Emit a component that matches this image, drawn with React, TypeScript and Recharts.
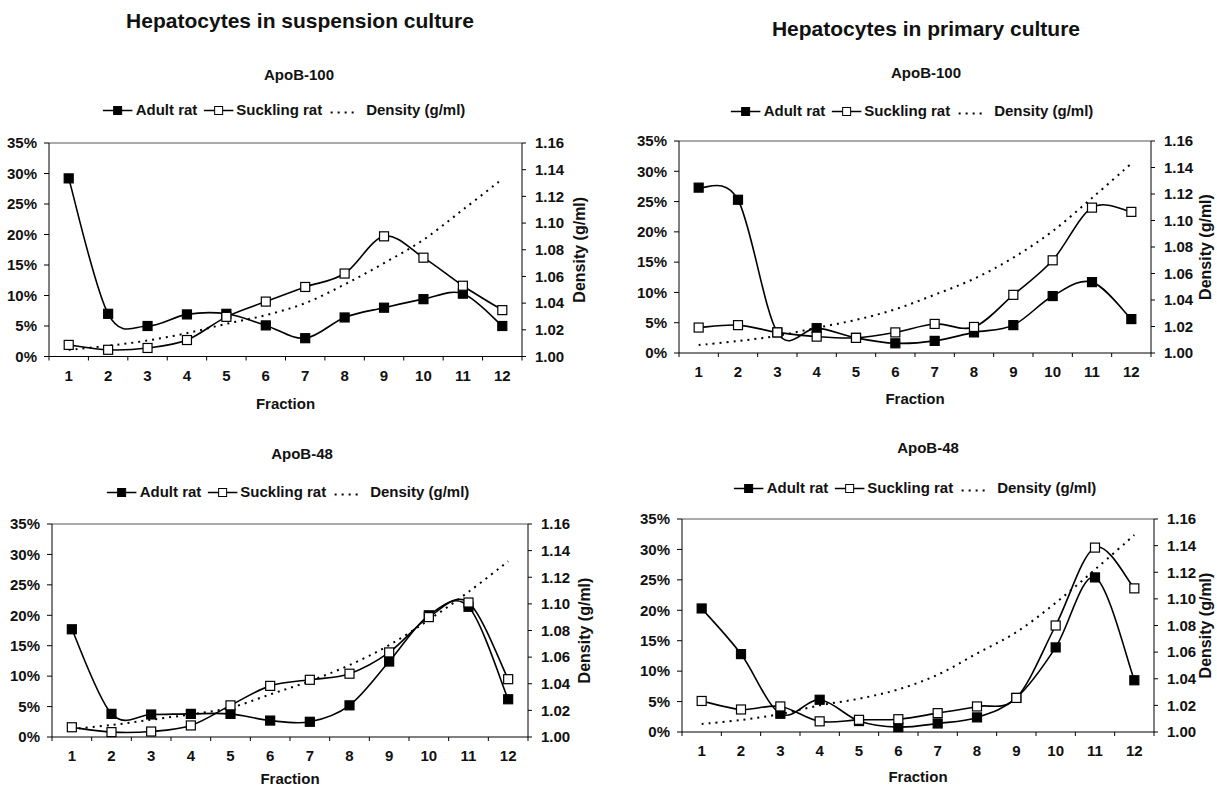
import React from 'react';
import { LineChart, Line, XAxis, YAxis, ReferenceLine } from 'recharts';

const FRACTIONS = [1, 2, 3, 4, 5, 6, 7, 8, 9, 10, 11, 12];
const FRACTION_TICKS = [0.5, 1, 1.5, 2, 2.5, 3, 3.5, 4, 4.5, 5, 5.5, 6, 6.5, 7, 7.5, 8, 8.5, 9, 9.5, 10, 10.5, 11, 11.5, 12, 12.5];
const PCT_TICKS = [0, 5, 10, 15, 20, 25, 30, 35];
const DENSITY_TICKS = [1.0, 1.02, 1.04, 1.06, 1.08, 1.1, 1.12, 1.14, 1.16];

// suspension culture, ApoB-100
const SUSP100_ADULT = [29.2, 7.0, 5.0, 6.9, 7.0, 5.1, 3.0, 6.4, 8.0, 9.4, 10.3, 5.0];
const SUSP100_SUCKLING = [1.9, 1.1, 1.4, 2.7, 6.5, 9.0, 11.4, 13.6, 19.7, 16.2, 11.6, 7.6];
const SUSP100_DENSITY = [1.005, 1.008, 1.012, 1.0175, 1.0245, 1.031, 1.04, 1.054, 1.07, 1.0875, 1.11, 1.133];

// primary culture, ApoB-100
const PRIM100_ADULT = [27.3, 25.3, 3.4, 4.1, 2.5, 1.6, 2.0, 3.4, 4.6, 9.4, 11.7, 5.6];
const PRIM100_SUCKLING = [4.2, 4.6, 3.4, 2.7, 2.5, 3.4, 4.8, 4.3, 9.6, 15.3, 24.0, 23.3];
const PRIM100_DENSITY = [1.006, 1.009, 1.013, 1.019, 1.025, 1.033, 1.044, 1.056, 1.072, 1.092, 1.117, 1.143];

// suspension culture, ApoB-48
const SUSP48_ADULT = [17.7, 3.8, 3.7, 3.8, 3.8, 2.7, 2.5, 5.2, 12.4, 20.0, 21.4, 6.2];
const SUSP48_SUCKLING = [1.6, 0.8, 0.9, 1.9, 5.2, 8.4, 9.4, 10.4, 13.9, 19.7, 22.1, 9.5];
const SUSP48_DENSITY = [1.006, 1.009, 1.013, 1.017, 1.022, 1.032, 1.042, 1.054, 1.069, 1.088, 1.109, 1.132];

// primary culture, ApoB-48
const PRIM48_ADULT = [20.3, 12.8, 3.0, 5.3, 1.8, 0.8, 1.4, 2.4, 5.6, 13.9, 25.4, 8.5];
const PRIM48_SUCKLING = [5.1, 3.7, 4.2, 1.75, 2.0, 2.1, 3.1, 4.2, 5.6, 17.5, 30.3, 23.6];
const PRIM48_DENSITY = [1.006, 1.009, 1.0135, 1.02, 1.025, 1.032, 1.043, 1.059, 1.075, 1.097, 1.122, 1.148];

const FONT = '"Liberation Sans", Arial, sans-serif';
const INK = '#111';

const buildRows = (adult: number[], suckling: number[], density: number[]) =>
  FRACTIONS.map((f, i) => ({ fraction: f, adult: adult[i], suckling: suckling[i], density: density[i] }));

// Excel-like smoothed line (Catmull-Rom through the points)
const excelSmooth = (context: any) => {
  let xs: number[] = [];
  let ys: number[] = [];
  return {
    areaStart() {},
    areaEnd() {},
    lineStart() {
      xs = [];
      ys = [];
    },
    point(x: number, y: number) {
      xs.push(+x);
      ys.push(+y);
    },
    lineEnd() {
      const n = xs.length;
      if (!n) return;
      context.moveTo(xs[0], ys[0]);
      for (let i = 0; i < n - 1; i++) {
        const i0 = Math.max(0, i - 1);
        const i3 = Math.min(n - 1, i + 2);
        context.bezierCurveTo(
          xs[i] + (xs[i + 1] - xs[i0]) / 6,
          ys[i] + (ys[i + 1] - ys[i0]) / 6,
          xs[i + 1] - (xs[i3] - xs[i]) / 6,
          ys[i + 1] - (ys[i3] - ys[i]) / 6,
          xs[i + 1],
          ys[i + 1]
        );
      }
    },
  };
};

const squareDot = (filled: boolean) => (props: any) => {
  const { cx, cy, index } = props;
  return (
    <rect
      key={`${filled ? 'f' : 'o'}-${index}`}
      x={cx - 4.5}
      y={cy - 4.5}
      width={9}
      height={9}
      fill={filled ? '#000' : '#fff'}
      stroke="#000"
      strokeWidth={1.2}
    />
  );
};

const FractionTick = (props: any) => {
  const { x, y, payload } = props;
  const v = payload.value;
  if (Number.isInteger(v)) {
    return (
      <text x={x} y={y + 19} textAnchor="middle" fontSize={15} fontWeight="bold" fontFamily={FONT} fill={INK}>
        {v}
      </text>
    );
  }
  return <line x1={x} x2={x} y1={y - 5} y2={y - 1} stroke="#000" strokeWidth={1} />;
};

const LegendIcon = ({ kind }: { kind: 'filled' | 'open' | 'dots' }) => (
  <svg width={30} height={12} style={{ display: 'block' }}>
    {kind === 'dots' ? (
      <line x1={2} x2={28} y1={9} y2={9} stroke="#000" strokeWidth={2} strokeDasharray="2 5" />
    ) : (
      <>
        <line x1={0} x2={30} y1={7} y2={7} stroke="#000" strokeWidth={1.5} />
        <rect x={11} y={3} width={8} height={8} fill={kind === 'filled' ? '#000' : '#fff'} stroke="#000" strokeWidth={1} />
      </>
    )}
  </svg>
);

const ChartLegend = ({ cx, cy }: { cx: number; cy: number }) => (
  <div
    style={{
      position: 'absolute',
      left: cx,
      top: cy,
      transform: 'translate(-50%, -50%)',
      display: 'flex',
      alignItems: 'center',
      whiteSpace: 'nowrap',
      fontFamily: FONT,
      fontWeight: 'bold',
      fontSize: 15,
      color: INK,
    }}
  >
    <LegendIcon kind="filled" />
    <span style={{ marginLeft: 3, marginRight: 6 }}>Adult rat</span>
    <LegendIcon kind="open" />
    <span style={{ marginLeft: 3, marginRight: 6 }}>Suckling rat</span>
    <LegendIcon kind="dots" />
    <span style={{ marginLeft: 8 }}>Density (g/ml)</span>
  </div>
);

const Caption = ({ text, cx, cy, size }: { text: string; cx: number; cy: number; size: number }) => (
  <div
    style={{
      position: 'absolute',
      left: cx,
      top: cy,
      transform: 'translate(-50%, -50%)',
      whiteSpace: 'nowrap',
      fontFamily: FONT,
      fontWeight: 'bold',
      fontSize: size,
      color: INK,
      lineHeight: 1,
    }}
  >
    {text}
  </div>
);

interface PanelProps {
  x0: number;
  x1: number;
  y0: number;
  y1: number;
  fractionDrop: number;
  densityLabelGap: number;
  adult: number[];
  suckling: number[];
  density: number[];
}

const LEFT_W = 50;
const TOP_M = 10;
const X_H = 64;

const tickStyle = { fontSize: 15, fontWeight: 'bold', fontFamily: FONT, fill: INK };

function Panel({ x0, x1, y0, y1, fractionDrop, densityLabelGap, adult, suckling, density }: PanelProps) {
  const rows = buildRows(adult, suckling, density);
  // the rotated density label sits in the middle of the right axis box
  const rightW = densityLabelGap * 2;
  const width = x1 - x0 + LEFT_W + rightW;
  const height = y1 - y0 + TOP_M + X_H;
  return (
    <div style={{ position: 'absolute', left: x0 - LEFT_W, top: y0 - TOP_M }}>
      <LineChart width={width} height={height} data={rows} margin={{ top: TOP_M, right: 0, bottom: 0, left: 0 }}>
        <XAxis
          dataKey="fraction"
          type="number"
          domain={[0.5, 12.5]}
          ticks={FRACTION_TICKS}
          interval={0}
          tick={<FractionTick />}
          tickLine={false}
          tickSize={5}
          tickMargin={0}
          height={X_H}
          axisLine={{ stroke: '#000', strokeWidth: 1 }}
          label={{ value: 'Fraction', position: 'insideBottom', offset: X_H - fractionDrop, style: tickStyle }}
        />
        <YAxis
          yAxisId="pct"
          orientation="left"
          width={LEFT_W}
          domain={[0, 35]}
          ticks={PCT_TICKS}
          interval={0}
          tickFormatter={(v) => `${v}%`}
          tick={tickStyle}
          tickSize={5}
          tickMargin={7}
          tickLine={{ stroke: '#000' }}
          axisLine={{ stroke: '#000', strokeWidth: 1 }}
        />
        <YAxis
          yAxisId="dens"
          orientation="right"
          width={rightW}
          domain={[1.0, 1.16]}
          ticks={DENSITY_TICKS}
          interval={0}
          tickFormatter={(v) => Number(v).toFixed(2)}
          tick={tickStyle}
          tickSize={4}
          tickMargin={9}
          tickLine={{ stroke: '#000' }}
          axisLine={{ stroke: '#000', strokeWidth: 1 }}
          label={{ value: 'Density (g/ml)', angle: -90, position: 'center', style: { ...tickStyle, fontSize: 16 } }}
        />
        <ReferenceLine yAxisId="pct" y={35} stroke="#555" strokeWidth={1} />
        <Line
          yAxisId="pct"
          dataKey="adult"
          type={excelSmooth as any}
          stroke="#000"
          strokeWidth={1.6}
          dot={squareDot(true)}
          activeDot={false}
          isAnimationActive={false}
        />
        <Line
          yAxisId="pct"
          dataKey="suckling"
          type={excelSmooth as any}
          stroke="#000"
          strokeWidth={1.6}
          dot={squareDot(false)}
          activeDot={false}
          isAnimationActive={false}
        />
        <Line
          yAxisId="dens"
          dataKey="density"
          type={excelSmooth as any}
          stroke="#000"
          strokeWidth={2}
          strokeDasharray="2 5"
          dot={false}
          activeDot={false}
          isAnimationActive={false}
        />
      </LineChart>
    </div>
  );
}

export default function App() {
  return (
    <div
      style={{
        position: 'absolute',
        left: 0,
        top: 0,
        width: 1217,
        height: 788,
        background: '#fff',
        overflow: 'hidden',
        fontFamily: FONT,
      }}
    >
      <Caption text="Hepatocytes in suspension culture" cx={300} cy={20} size={21} />
      <Caption text="Hepatocytes in primary culture" cx={926} cy={28} size={21} />

      <Caption text="ApoB-100" cx={299} cy={74} size={15} />
      <ChartLegend cx={284} cy={109} />
      <Panel x0={49} x1={522} y0={143} y1={356.5} fractionDrop={52} densityLabelGap={57} adult={SUSP100_ADULT} suckling={SUSP100_SUCKLING} density={SUSP100_DENSITY} />

      <Caption text="ApoB-100" cx={926} cy={72} size={15} />
      <ChartLegend cx={912} cy={110} />
      <Panel x0={679} x1={1151} y0={141} y1={353} fractionDrop={51} densityLabelGap={54} adult={PRIM100_ADULT} suckling={PRIM100_SUCKLING} density={PRIM100_DENSITY} />

      <Caption text="ApoB-48" cx={302} cy={453} size={15} />
      <ChartLegend cx={288} cy={491} />
      <Panel x0={52} x1={528} y0={524} y1={737} fractionDrop={47} densityLabelGap={56} adult={SUSP48_ADULT} suckling={SUSP48_SUCKLING} density={SUSP48_DENSITY} />

      <Caption text="ApoB-48" cx={928} cy={447} size={15} />
      <ChartLegend cx={915} cy={487} />
      <Panel x0={682} x1={1154} y0={519} y1={732} fractionDrop={50} densityLabelGap={51} adult={PRIM48_ADULT} suckling={PRIM48_SUCKLING} density={PRIM48_DENSITY} />
    </div>
  );
}
